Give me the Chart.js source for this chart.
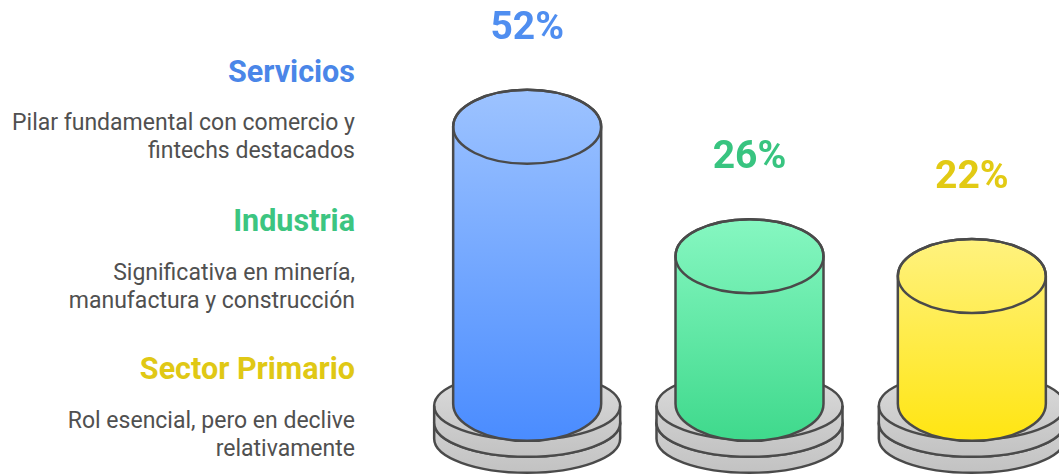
<!DOCTYPE html>
<html>
<head>
<meta charset="utf-8">
<script src="https://cdn.jsdelivr.net/npm/chart.js@4.4.0/dist/chart.umd.min.js"></script>
<style>
	html, body { margin: 0; padding: 0; width: 1059px; height: 475px; overflow: hidden; background: #fff; font-family: Roboto, "Noto Sans", sans-serif; }
	.side { position: absolute; right: 704px; text-align: right; white-space: nowrap; }
	.head { font-size: 30.5px; line-height: 34px; font-weight: 700; }
	.desc { font-size: 23px; line-height: 28px; color: #505050; }
	#wrap { position: absolute; left: 416px; top: 0; width: 667px; height: 475px; }
</style>
</head>
<body>
<div class="side head" style="top:55px;color:#4a86e8">Servicios</div>
<div class="side desc" style="top:109px">Pilar fundamental con comercio y<br>fintechs destacados</div>
<div class="side head" style="top:204px;color:#3cc581">Industria</div>
<div class="side desc" style="top:259px">Significativa en minería,<br>manufactura y construcción</div>
<div class="side head" style="top:352px;color:#e0c815">Sector Primario</div>
<div class="side desc" style="top:407px">Rol esencial, pero en declive<br>relativamente</div>

<div id="wrap"><canvas id="sector_cylinders"></canvas></div>

<script>
const sectors = ['Servicios', 'Industria', 'Sector Primario'];
const shares = [52, 26, 22];
const shareLabels = ['52%', '26%', '22%'];

const labelColors = ['#4f8ef0', '#38c480', '#e2ca14'];
const topColors = ['#9dc3ff', '#86f7c1', '#fff27f'];
const bottomColors = ['#4a8cff', '#3fd98c', '#ffe512'];

const strokeColor = '#4a4a4a';

function drawDisk(ctx, cx, topY, thick, rx, ry) {
	let g = ctx.createLinearGradient(0, topY - ry, 0, topY + thick + ry);
	g.addColorStop(0, '#dcdcdc');
	g.addColorStop(1, '#c2c2c2');
	ctx.beginPath();
	ctx.ellipse(cx, topY, rx, ry, 0, Math.PI, 2 * Math.PI);
	ctx.lineTo(cx + rx, topY + thick);
	ctx.ellipse(cx, topY + thick, rx, ry, 0, 0, Math.PI);
	ctx.closePath();
	ctx.fillStyle = g;
	ctx.fill();
	ctx.stroke();
	ctx.beginPath();
	ctx.ellipse(cx, topY, rx, ry, 0, 0, Math.PI);
	ctx.stroke();
}

function drawCylinder(ctx, cx, top, base, rx, ry, i) {
	let g = ctx.createLinearGradient(0, top - ry, 0, base + ry);
	g.addColorStop(0, topColors[i]);
	g.addColorStop(1, bottomColors[i]);
	ctx.beginPath();
	ctx.moveTo(cx - rx, top);
	ctx.lineTo(cx - rx, base);
	ctx.ellipse(cx, base, rx, ry, 0, Math.PI, 0, true);
	ctx.lineTo(cx + rx, top);
	ctx.ellipse(cx, top, rx, ry, 0, 0, Math.PI, true);
	ctx.closePath();
	ctx.fillStyle = g;
	ctx.fill();
	ctx.stroke();
	ctx.beginPath();
	ctx.ellipse(cx, top, rx, ry, 0, 0, 2 * Math.PI);
	ctx.stroke();
}

const cylinderPlugin = {
	id: 'cylinders',
	afterDatasetsDraw(chart) {
		const ctx = chart.ctx;
		const meta = chart.getDatasetMeta(0);
		ctx.save();
		ctx.lineWidth = 2.5;
		ctx.strokeStyle = strokeColor;
		ctx.lineJoin = 'round';
		meta.data.forEach((bar, i) => {
			const p = bar.getProps(['x', 'y', 'base', 'width'], true);
			const rx = p.width / 2;
			const ry = 37;
			// two stacked gray plates under each cylinder
			drawDisk(ctx, p.x, p.base + 19, 16, rx + 19, 34);
			drawDisk(ctx, p.x, p.base + 2, 17, rx + 19, 34);
			drawCylinder(ctx, p.x, p.y, p.base, rx, ry, i);
			ctx.fillStyle = labelColors[i];
			ctx.font = 'bold 39px Roboto';
			ctx.textAlign = 'center';
			ctx.textBaseline = 'alphabetic';
			ctx.fillText(shareLabels[i], p.x, p.y - ry - 51);
		});
		ctx.restore();
	}
};

const canvas = document.getElementById('sector_cylinders');
const data = {
	labels: sectors,
	datasets: [{
		data: shares,
		base: -3.7,
		barThickness: 148,
		backgroundColor: 'rgba(0,0,0,0)',
		borderWidth: 0
	}]
};

const config = {
	type: 'bar',
	data: data,
	options: {
		responsive: true,
		maintainAspectRatio: false,
		animation: false,
		layout: { padding: 0 },
		scales: {
			x: { display: false },
			y: { display: false, min: -18, max: 77.5 }
		},
		plugins: {
			legend: { display: false },
			tooltip: { enabled: false }
		}
	},
	plugins: [cylinderPlugin]
};

const chart = new Chart(canvas.getContext('2d'), config);
</script>
</body>
</html>
